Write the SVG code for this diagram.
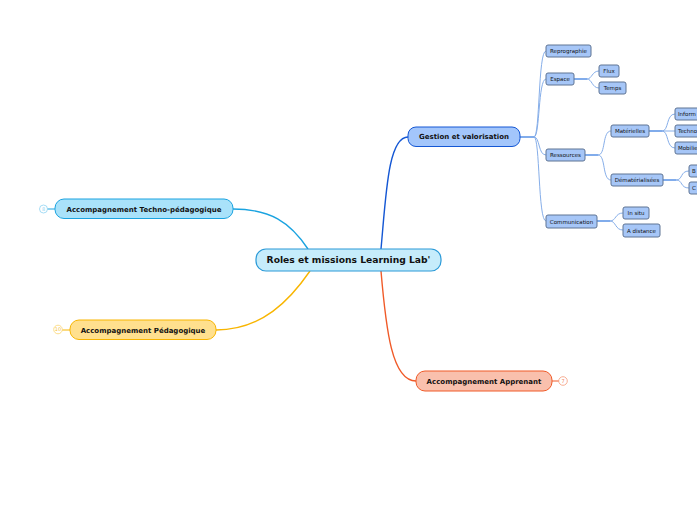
<svg xmlns="http://www.w3.org/2000/svg" width="697" height="520" viewBox="0 0 697 520">
<style>
text{font-family:"DejaVu Sans","Verdana",sans-serif;fill:#111;}
.main{font-size:9.2px;font-weight:bold;}
.l1{font-size:7px;font-weight:bold;}
.s{font-size:5.5px;}
.sn{fill:#a6c6f7;stroke:#5f7494;stroke-width:1;}
.sl{fill:none;stroke:#86aee9;stroke-width:1;}
.sl2{fill:none;stroke:#3d7fe0;stroke-width:1.3;}
.num{font-size:5px;}
</style>
<rect width="697" height="520" fill="#fff"/>
<g id="connectors" fill="none">
<path d="M381,249 C386,195 388,137 408,137" stroke="#1457d4" stroke-width="1.4"/>
<path d="M381,271 C386,330 392,381 416,381" stroke="#f05a28" stroke-width="1.4"/>
<path d="M308,249 C290,222 270,209 233,209" stroke="#1aa3e0" stroke-width="1.4"/>
<path d="M310,271 C290,300 262,330 216,330" stroke="#f8b500" stroke-width="1.4"/>
<path d="M47,209 H55" stroke="#1aa3e0" stroke-width="1"/>
<path d="M62,330 H70" stroke="#f8b500" stroke-width="1"/>
<path d="M552,381 H559" stroke="#f05a28" stroke-width="1"/>
<path class="sl2" d="M520,137 H534"/>
<path class="sl" d="M534,137 C540,137 538,51 546,51"/>
<path class="sl" d="M534,137 C540,137 538,79 546,79"/>
<path class="sl" d="M534,137 C540,137 538,155 546,155"/>
<path class="sl" d="M534,137 C540,137 538,221 546,221"/>
<path class="sl2" d="M574,79 H587"/>
<path class="sl" d="M587,79 C592,79 592,71 599,71"/>
<path class="sl" d="M587,79 C592,79 592,88 599,88"/>
<path class="sl2" d="M585,155 H598"/>
<path class="sl" d="M598,155 C606,155 602,131 611,131"/>
<path class="sl" d="M598,155 C606,155 602,180 611,180"/>
<path class="sl2" d="M649,131 H662"/>
<path class="sl" d="M662,131 C669,131 666,114 675,114"/>
<path class="sl" d="M662,131 H675"/>
<path class="sl" d="M662,131 C669,131 666,148 675,148"/>
<path class="sl2" d="M663,180 H676"/>
<path class="sl" d="M676,180 C683,180 680,171 689,171"/>
<path class="sl" d="M676,180 C683,180 680,188 689,188"/>
<path class="sl2" d="M597,221 H610"/>
<path class="sl" d="M610,221 C616,221 615,213 623,213"/>
<path class="sl" d="M610,221 C616,221 615,230 623,230"/>
</g>
<g id="central">
<rect x="256" y="249" width="185" height="22" rx="10" fill="#c6ecfb" stroke="#2b9ad8" stroke-width="1.2"/>
<text class="main" x="348.5" y="263.3" text-anchor="middle">Roles et missions Learning Lab'</text>
</g>
<g id="techno">
<rect x="55" y="199" width="178" height="19.5" rx="9" fill="#a9e2fa" stroke="#1aa3e0" stroke-width="1"/>
<text class="l1" x="144" y="211.5" text-anchor="middle">Accompagnement Techno-pédagogique</text>
<circle cx="43.5" cy="209" r="4" fill="#fff" stroke="#8fd3f2" stroke-width="0.8"/>
<text class="num" x="43.5" y="210.8" text-anchor="middle" style="fill:#8fd3f2">8</text>
</g>
<g id="pedagogique">
<rect x="70" y="320" width="146" height="19.5" rx="9" fill="#ffe08e" stroke="#f8b500" stroke-width="1"/>
<text class="l1" x="143" y="332.5" text-anchor="middle">Accompagnement Pédagogique</text>
<circle cx="58" cy="329.5" r="4.3" fill="#fff" stroke="#fbd66e" stroke-width="0.8"/>
<text class="num" x="58" y="331.3" text-anchor="middle" style="fill:#f5c040">10</text>
</g>
<g id="apprenant">
<rect x="416" y="371" width="136" height="20" rx="9" fill="#f9c0ad" stroke="#f05a28" stroke-width="1"/>
<text class="l1" x="484" y="383.5" text-anchor="middle">Accompagnement Apprenant</text>
<circle cx="563" cy="381" r="4.3" fill="#fff" stroke="#f59a7a" stroke-width="0.8"/>
<text class="num" x="563" y="382.8" text-anchor="middle" style="fill:#f08060">7</text>
</g>
<g id="gestion">
<rect x="408" y="127" width="112" height="19.5" rx="8" fill="#a3c6fb" stroke="#1457d4" stroke-width="1"/>
<text class="l1" x="464" y="139.3" text-anchor="middle">Gestion et valorisation</text>
</g>
<g id="reprographie"><rect class="sn" x="546" y="45" width="45" height="12" rx="2"/><text class="s" x="568.5" y="53" text-anchor="middle">Reprographie</text></g>
<g id="espace"><rect class="sn" x="546" y="73" width="28" height="12" rx="2"/><text class="s" x="560" y="81" text-anchor="middle">Espace</text></g>
<g id="flux"><rect class="sn" x="599" y="65" width="20" height="12" rx="2"/><text class="s" x="609" y="73" text-anchor="middle">Flux</text></g>
<g id="temps"><rect class="sn" x="599" y="82" width="27" height="12" rx="2"/><text class="s" x="612.5" y="90" text-anchor="middle">Temps</text></g>
<g id="ressources"><rect class="sn" x="546" y="149" width="39" height="12" rx="2"/><text class="s" x="565.5" y="157" text-anchor="middle">Ressources</text></g>
<g id="materielles"><rect class="sn" x="611" y="125" width="38" height="12" rx="2"/><text class="s" x="630" y="133" text-anchor="middle">Matérielles</text></g>
<g id="informatique"><rect class="sn" x="675" y="108" width="40" height="12" rx="2"/><text class="s" x="678" y="116">Inform</text></g>
<g id="technologie"><rect class="sn" x="675" y="125" width="40" height="12" rx="2"/><text class="s" x="678" y="133">Techno</text></g>
<g id="mobilier"><rect class="sn" x="675" y="142" width="40" height="12" rx="2"/><text class="s" x="678" y="150">Mobilie</text></g>
<g id="dematerialisees"><rect class="sn" x="611" y="174" width="52" height="12" rx="2"/><text class="s" x="637" y="182" text-anchor="middle">Dématérialisées</text></g>
<g id="b-node"><rect class="sn" x="689" y="165" width="30" height="12" rx="2"/><text class="s" x="692" y="173">B</text></g>
<g id="c-node"><rect class="sn" x="689" y="182" width="30" height="12" rx="2"/><text class="s" x="692" y="190">C</text></g>
<g id="communication"><rect class="sn" x="546" y="215" width="51" height="13" rx="2"/><text class="s" x="571.5" y="223.5" text-anchor="middle">Communication</text></g>
<g id="insitu"><rect class="sn" x="623" y="207" width="26" height="12" rx="2"/><text class="s" x="636" y="215" text-anchor="middle">In situ</text></g>
<g id="adistance"><rect class="sn" x="623" y="224" width="37" height="13" rx="2"/><text class="s" x="641.5" y="232.5" text-anchor="middle">A distance</text></g>
</svg>
